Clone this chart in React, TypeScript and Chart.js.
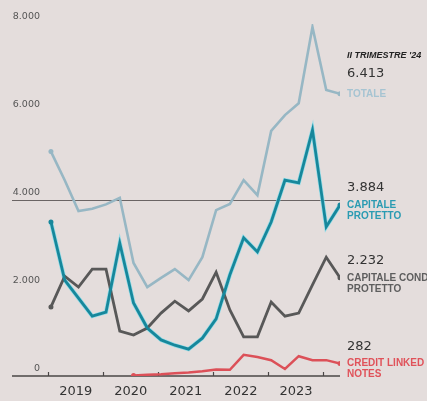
import React, { useEffect, useRef } from "react";
import { Chart, registerables } from "chart.js";

Chart.register(...registerables);

const quarterLabels = [
  "2019 T1", "2019 T2", "2019 T3", "2019 T4",
  "2020 T1", "2020 T2", "2020 T3", "2020 T4",
  "2021 T1", "2021 T2", "2021 T3", "2021 T4",
  "2022 T1", "2022 T2", "2022 T3", "2022 T4",
  "2023 T1", "2023 T2", "2023 T3", "2023 T4",
  "2024 T1", "2024 T2",
];

const totale = [5100, 4450, 3750, 3800, 3900, 4050, 2570, 2020, 2230, 2430, 2180, 2700, 3770, 3910, 4450, 4110, 5570, 5930, 6200, 7930, 6500, 6413];
const capitaleProtetto = [3500, 2180, 1770, 1360, 1450, 3020, 1660, 1090, 820, 700, 610, 860, 1300, 2300, 3140, 2820, 3500, 4450, 4390, 5590, 3390, 3884];
const capitaleCondProtetto = [1570, 2270, 2020, 2430, 2430, 1020, 930, 1090, 1430, 1700, 1480, 1750, 2360, 1500, 890, 890, 1680, 1360, 1430, 2070, 2700, 2232];
const creditLinkedNotes = [null, null, null, null, null, null, 10, 30, 40, 60, 80, 110, 150, 140, 480, 430, 360, 160, 450, 360, 360, 282];

const yTickValues = [0, 2000, 4000, 6000, 8000];
const yTickLabels = ["0", "2.000", "4.000", "6.000", "8.000"];
const yearLabels = ["2019", "2020", "2021", "2022", "2023"];
const yearStartIndex = [0, 4, 8, 12, 16, 20];

const seriesNotes = [
  { values: totale, number: "6.413", lines: ["TOTALE"], color: "#a6c4d2", numberOffset: -20 },
  { values: capitaleProtetto, number: "3.884", lines: ["CAPITALE", "PROTETTO"], color: "#2a9bb2", numberOffset: -17 },
  { values: capitaleCondProtetto, number: "2.232", lines: ["CAPITALE COND", "PROTETTO"], color: "#5e5e5e", numberOffset: -17 },
  { values: creditLinkedNotes, number: "282", lines: ["CREDIT LINKED", "NOTES"], color: "#e0525a", numberOffset: -17 },
];

const toPoints = (arr: (number | null)[]) =>
  arr.map((v, i) => (v == null ? null : { x: i, y: v })).filter((p) => p !== null) as { x: number; y: number }[];

const endDot = (n: number) => (ctx: any) => (ctx.dataIndex === 0 || ctx.dataIndex === n - 1 ? 2.5 : 0);

const decorPlugin = {
  id: "decor",
  beforeDatasetsDraw(chart: any) {
    const { ctx, chartArea, scales } = chart;
    const xs = scales.x;
    const ys = scales.y;
    ctx.save();
    const g = Math.round(ys.getPixelForValue(4000)) + 0.5;
    ctx.strokeStyle = "#6a6464";
    ctx.lineWidth = 1;
    ctx.beginPath();
    ctx.moveTo(chartArea.left, g);
    ctx.lineTo(chartArea.right, g);
    ctx.stroke();
    ctx.fillStyle = "#555";
    ctx.font = "9.5px 'DejaVu Sans'";
    ctx.textAlign = "right";
    ctx.textBaseline = "middle";
    yTickValues.forEach((v, i) => {
      ctx.fillText(yTickLabels[i], chartArea.left + 28, ys.getPixelForValue(v) - 7);
    });
    const y0 = ys.getPixelForValue(0);
    ctx.strokeStyle = "#4a4646";
    ctx.lineWidth = 1.6;
    ctx.beginPath();
    ctx.moveTo(chartArea.left, y0);
    ctx.lineTo(chartArea.right, y0);
    ctx.stroke();
    ctx.lineWidth = 1.2;
    yearStartIndex.forEach((q) => {
      const px = Math.round(xs.getPixelForValue(q - 0.2)) + 0.5;
      ctx.beginPath();
      ctx.moveTo(px, y0 - 4);
      ctx.lineTo(px, y0);
      ctx.stroke();
    });
    ctx.fillStyle = "#333";
    ctx.font = "13px 'DejaVu Sans'";
    ctx.textAlign = "center";
    ctx.textBaseline = "middle";
    yearLabels.forEach((lab, i) => {
      ctx.fillText(lab, xs.getPixelForValue(yearStartIndex[i] + 1.8), y0 + 16);
    });
    ctx.restore();
  },
  afterDatasetsDraw(chart: any) {
    const { ctx, scales } = chart;
    const xs = scales.x;
    const ys = scales.y;
    const last = quarterLabels.length - 1;
    const tx = xs.getPixelForValue(last) + 7;
    ctx.save();
    ctx.textAlign = "left";
    ctx.textBaseline = "middle";
    ctx.fillStyle = "#222";
    ctx.font = "italic bold 9px 'Liberation Sans'";
    ctx.fillText("II TRIMESTRE '24", tx, ys.getPixelForValue(totale[last]) - 38);
    seriesNotes.forEach((s) => {
      const py = ys.getPixelForValue(s.values[last] as number);
      ctx.fillStyle = "#333";
      ctx.font = "13px 'DejaVu Sans'";
      ctx.fillText(s.number, tx, py + s.numberOffset);
      ctx.fillStyle = s.color;
      ctx.font = "bold 10px 'Liberation Sans'";
      s.lines.forEach((l, k) => ctx.fillText(l, tx, py + k * 11));
    });
    ctx.restore();
  },
};

export default function App() {
  const canvasRef = useRef<HTMLCanvasElement | null>(null);

  useEffect(() => {
    document.body.style.margin = "0";
    const canvas = canvasRef.current;
    if (!canvas) return;
    const tot = toPoints(totale);
    const cp = toPoints(capitaleProtetto);
    const ccp = toPoints(capitaleCondProtetto);
    const cln = toPoints(creditLinkedNotes);
    const chart = new Chart(canvas, {
      type: "line",
      data: {
        datasets: [
          {
            label: "Credit linked notes",
            data: cln,
            borderColor: "#dc5058",
            backgroundColor: "#dc5058",
            borderWidth: 2.5,
            pointRadius: endDot(cln.length),
            pointBorderWidth: 0,
            tension: 0,
            order: 0,
          },
          {
            label: "Capitale protetto",
            data: cp,
            borderColor: "#17879b",
            backgroundColor: "#17879b",
            borderWidth: 2.8,
            pointRadius: endDot(cp.length),
            pointBorderWidth: 0,
            tension: 0,
            order: 1,
          },
          {
            label: "Capitale protetto alone",
            data: cp,
            borderColor: "rgba(120,220,236,0.75)",
            borderWidth: 4.2,
            pointRadius: 0,
            tension: 0,
            order: 5,
          },
          {
            label: "Capitale condizionatamente protetto",
            data: ccp,
            borderColor: "#585858",
            backgroundColor: "#585858",
            borderWidth: 2.8,
            pointRadius: endDot(ccp.length),
            pointBorderWidth: 0,
            tension: 0,
            order: 2,
          },
          {
            label: "Totale",
            data: tot,
            borderColor: "#97b7c4",
            backgroundColor: "#97b7c4",
            borderWidth: 2.6,
            pointRadius: endDot(tot.length),
            pointBorderWidth: 0,
            tension: 0,
            order: 3,
          },
        ],
      },
      options: {
        responsive: false,
        animation: false,
        layout: { padding: { left: 12, right: 87, top: 24, bottom: 25 } },
        plugins: { legend: { display: false }, tooltip: { enabled: false } },
        scales: {
          x: { type: "linear", min: -2.83, max: quarterLabels.length - 1, display: false },
          y: { type: "linear", min: 0, max: 8000, display: false },
        },
      },
      plugins: [decorPlugin],
    });
    return () => chart.destroy();
  }, []);

  return (
    <div style={{ position: "fixed", left: 0, top: 0, width: 427, height: 401, background: "#e4dddc" }}>
      <canvas ref={canvasRef} width={427} height={401} style={{ display: "block" }} />
    </div>
  );
}
